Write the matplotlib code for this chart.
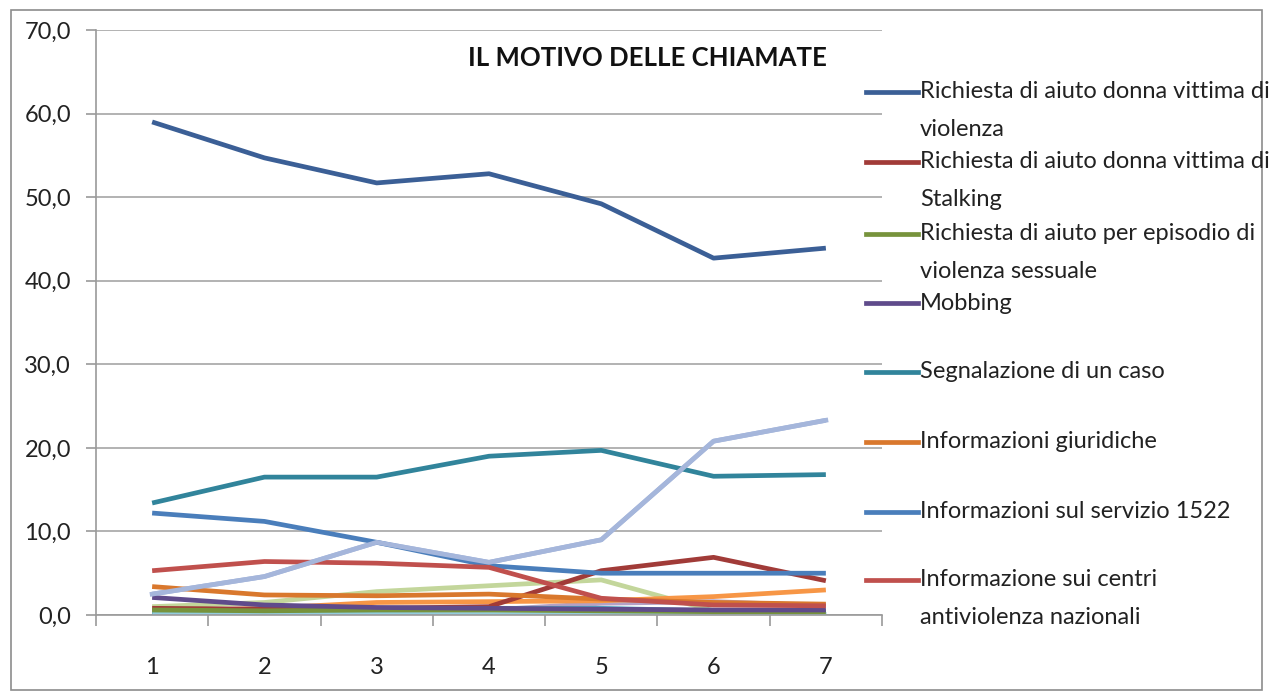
import matplotlib.pyplot as plt
from matplotlib.lines import Line2D
from matplotlib.patches import Rectangle

plt.rcParams['font.family'] = ['Lato', 'DejaVu Sans']

W, H = 1273, 693

# mesi (categorie sull'asse x)
mesi = [1, 2, 3, 4, 5, 6, 7]

# percentuali per motivo della chiamata
violenza = [59.0, 54.7, 51.7, 52.8, 49.2, 42.7, 43.9]
stalking = [0.8, 0.7, 0.8, 1.0, 5.3, 6.9, 4.1]
violenza_sessuale = [0.6, 0.5, 0.6, 0.6, 0.5, 0.4, 0.4]
mobbing = [2.1, 1.2, 0.9, 0.8, 0.7, 0.6, 0.6]
segnalazione = [13.4, 16.5, 16.5, 19.0, 19.7, 16.6, 16.8]
giuridiche = [3.4, 2.4, 2.3, 2.5, 1.9, 1.5, 1.3]
servizio_1522 = [12.2, 11.2, 8.7, 5.9, 5.0, 5.0, 5.0]
centri = [5.3, 6.4, 6.2, 5.7, 2.0, 1.2, 1.1]

# serie senza voce in legenda
serie_9 = [2.5, 4.6, 8.7, 6.3, 9.0, 20.8, 23.3]
serie_10 = [1.0, 1.5, 2.8, 3.5, 4.2, 0.5, 0.4]
serie_11 = [0.3, 0.4, 0.5, 0.6, 1.4, 1.6, 1.1]
serie_12 = [0.4, 0.8, 1.5, 1.6, 1.7, 2.2, 3.0]
serie_13 = [0.2, 0.3, 0.5, 0.8, 0.8, 0.5, 0.3]
serie_14 = [0.1, 0.1, 0.1, 0.1, 0.1, 0.1, 0.1]

etichette = [
    'Richiesta di aiuto donna vittima di\nviolenza',
    'Richiesta di aiuto donna vittima di\nStalking',
    'Richiesta di aiuto per episodio di\nviolenza sessuale',
    'Mobbing',
    'Segnalazione di un caso',
    'Informazioni giuridiche',
    'Informazioni sul servizio 1522',
    'Informazione sui centri\nantiviolenza nazionali',
]
serie = [violenza, stalking, violenza_sessuale, mobbing, segnalazione,
         giuridiche, servizio_1522, centri]
colori = ['#3B5F96', '#A13B38', '#77933C', '#5F4B8B', '#31849B',
          '#D9782D', '#4A7EBB', '#C0504D']

altre = [serie_9, serie_10, serie_11, serie_12, serie_13, serie_14]
colori_altre = ['#A5B6DB', '#C3D69B', '#B3A2C7', '#F79646', '#4BACC6', '#93CDDD']


def fx(px):
    return px / W


def fy(py):
    return 1 - py / H


fig = plt.figure(figsize=(W / 100, H / 100), dpi=100)
fig.patches.append(Rectangle((fx(11), fy(690)), fx(1262) - fx(11), fy(10) - fy(690),
                             transform=fig.transFigure, fill=False,
                             edgecolor='#8C8C8C', linewidth=1.2))

ax = fig.add_axes([fx(96), fy(615), fx(882) - fx(96), fy(30) - fy(615)])

lw = 3.4
for valori, c in zip(altre, colori_altre):
    ax.plot(mesi, valori, color=c, linewidth=lw, solid_capstyle='butt', zorder=2)
for valori, c in zip(serie, colori):
    ax.plot(mesi, valori, color=c, linewidth=lw, solid_capstyle='butt', zorder=3)
# la serie piu' chiara passa sopra le altre
ax.plot(mesi, serie_9, color=colori_altre[0], linewidth=lw, zorder=4)

ax.set_xlim(0.5, 7.5)
ax.set_ylim(0, 70)
ax.set_yticks(range(0, 71, 10))
ax.set_yticklabels([f'{v},0' for v in range(0, 71, 10)], fontsize=17, color='#222222')
ax.set_xticks(mesi)
ax.set_xticklabels([str(m) for m in mesi], fontsize=17, color='#222222')
ax.set_xticks([m + 0.5 for m in [0] + mesi], minor=True)
ax.tick_params(axis='x', which='major', length=0, pad=30)
ax.tick_params(axis='x', which='minor', length=8, color='#9A9A9A', width=1.2)
ax.tick_params(axis='y', length=7, color='#9A9A9A', width=1.2, pad=11)

ax.grid(axis='y', color='#A6A6A6', linewidth=1.2, zorder=0)
ax.set_axisbelow(True)
for s in ['top', 'right']:
    ax.spines[s].set_visible(False)
for s in ['left', 'bottom']:
    ax.spines[s].set_color('#9A9A9A')
    ax.spines[s].set_linewidth(1.2)

fig.text(fx(468), fy(58), 'IL MOTIVO DELLE CHIAMATE', fontsize=18.5,
         fontweight='bold', va='center', ha='left', color='#111111')

# legenda disegnata a mano
y_voci = [92, 162, 234, 303, 372, 442, 512, 580]
for y, testo, c in zip(y_voci, etichette, colori):
    fig.add_artist(Line2D([fx(866), fx(918)], [fy(y), fy(y)], color=c,
                          linewidth=lw, transform=fig.transFigure))
    for i, riga in enumerate(testo.split('\n')):
        fig.text(fx(920), fy(y + 37 * i), riga, fontsize=17, va='center',
                 ha='left', color='#222222')

fig.savefig('out.png', dpi=100, facecolor='white')
